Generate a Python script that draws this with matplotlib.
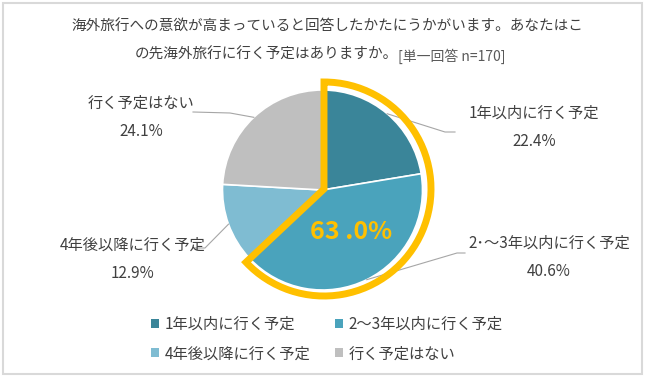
import matplotlib
matplotlib.use("Agg")
import matplotlib.pyplot as plt
import matplotlib.patches as mpatches
import numpy as np

plt.rcParams['font.family'] = ['Noto Sans CJK JP', 'DejaVu Sans']

##### DONNEES #####
categories = ['1年以内に行く予定', '2～3年以内に行く予定', '4年後以降に行く予定', '行く予定はない']
slice_labels = ['1年以内に行く予定', '2･～3年以内に行く予定', '4年後以降に行く予定', '行く予定はない']
values = [22.4, 40.6, 12.9, 24.1]
colors = ['#3A8599', '#4AA3BC', '#7FBCD2', '#BFBFBF']
highlight_n = 2          # les 2 premières parts entourées en orange
highlight_text = '63 .0%'
title_line1 = '海外旅行への意欲が高まっていると回答したかたにうかがいます。あなたはこ'
title_line2 = 'の先海外旅行に行く予定はありますか。'
title_note = '[単一回答 n=170]'

W, H = 650, 379
TXT = '#404040'
FS = 11

def Y(y):
    # coordonnée image (haut = 0) -> coordonnée axe
    return H - y

fig = plt.figure(figsize=(W / 100, H / 100), dpi=100)
ax = fig.add_axes([0, 0, 1, 1])

# Camembert
cx, cy, r = 322.5, Y(190), 100
wedges, _ = ax.pie(values, colors=colors, startangle=90, counterclock=False,
                   center=(cx, cy), radius=r, frame=True,
                   wedgeprops=dict(edgecolor='white', linewidth=1.2))
ax.set_xlim(0, W)
ax.set_ylim(0, H)
ax.set_aspect('equal')
ax.axis('off')

# Contour orange autour des parts mises en avant
frac = sum(values[:highlight_n]) / sum(values)
hl = mpatches.Wedge((cx + 1.5, cy + 1), r + 7, 90 - 360 * frac, 90, fill=False,
                    edgecolor='#FFC000', linewidth=5, joinstyle='miter', zorder=5)
ax.add_patch(hl)
ax.text(351, Y(232), highlight_text, fontsize=18, fontweight='bold', color='#FFC000',
        ha='center', va='center', zorder=6)

# Etiquettes + lignes de rappel
label_xy = [(534, 113), (549, 243), (133, 245), (141, 103)]
elbows = [[(445, 132), (455, 132)],
          [(457, 253), (465, 253)],
          [(205, 248), (195, 248)],
          [(230, 113), (193, 112)]]
cum = np.cumsum([0] + values)
for i, w in enumerate(wedges):
    mid = 90 - 360 * (cum[i] + values[i] / 2) / sum(values)
    sx = cx + r * np.cos(np.radians(mid))
    sy = cy + r * np.sin(np.radians(mid))
    xs = [sx] + [p[0] for p in elbows[i]]
    ys = [sy] + [Y(p[1]) for p in elbows[i]]
    ax.plot(xs, ys, color='#A6A6A6', lw=0.8, zorder=2)
    lx, ly = label_xy[i]
    ax.text(lx, Y(ly), slice_labels[i], fontsize=FS, color=TXT, ha='center', va='center')
    ax.text(lx, Y(ly + 28), f"{values[i]:.1f}%", fontsize=FS, color=TXT,
            ha='center', va='center')

# Titre
ax.text(327, Y(27), title_line1, fontsize=10.5, color=TXT, ha='center', va='center')
ax.text(135, Y(55), title_line2, fontsize=10.5, color=TXT, ha='left', va='center')
ax.text(398, Y(56), title_note, fontsize=10, color='#595959', ha='left', va='center')

# Légende (ordre par lignes)
handles = [mpatches.Patch(facecolor=c, edgecolor='none') for c in colors]
order = [0, 2, 1, 3]
fig.legend([handles[i] for i in order], [categories[i] for i in order], ncol=2,
           loc='upper left', bbox_to_anchor=(151 / W, 1 - 316 / H), frameon=False,
           fontsize=FS, handlelength=0.5, handleheight=0.5, handletextpad=0.4,
           columnspacing=1.6, labelspacing=0.8, borderpad=0, borderaxespad=0,
           labelcolor=TXT)

# Cadre
ax.add_patch(mpatches.Rectangle((3, Y(374)), 639, 371, fill=False,
                                edgecolor='#D9D9D9', lw=1.5, zorder=0))

fig.savefig('out.png', dpi=100)
